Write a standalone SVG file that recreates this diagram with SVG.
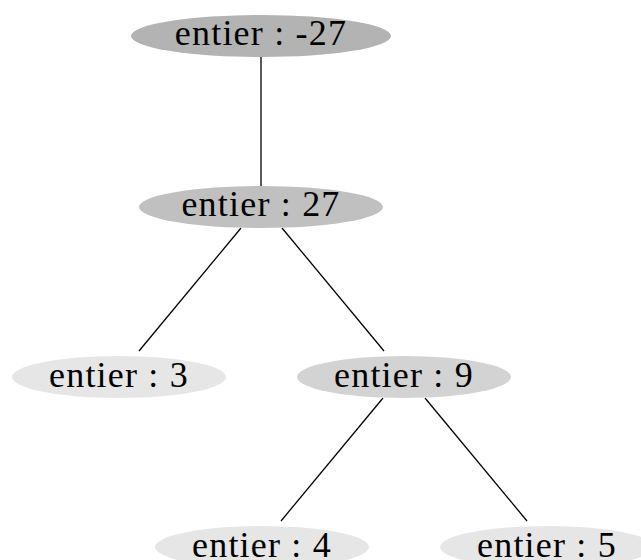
<svg xmlns="http://www.w3.org/2000/svg" width="641" height="560" viewBox="0 0 641 560">
<style>
text{font-family:"Liberation Serif","Times New Roman",serif;font-size:36px;letter-spacing:1.2px;text-anchor:middle;fill:#000}
.e{stroke:#000;stroke-width:1.3;fill:none}
</style>
<rect width="641" height="560" fill="#fff"/>
<g id="edges">
<line class="e" x1="261" y1="57" x2="261" y2="186"/>
<line class="e" x1="241" y1="228" x2="139" y2="351"/>
<line class="e" x1="282" y1="228" x2="384" y2="351"/>
<line class="e" x1="383" y1="398" x2="281" y2="521"/>
<line class="e" x1="425" y1="398" x2="527" y2="521"/>
</g>
<g id="n1"><ellipse cx="261" cy="36" rx="130" ry="21" fill="#b3b3b3"/><text x="261" y="45">entier : -27</text></g>
<g id="n2"><ellipse cx="261" cy="207" rx="122" ry="21" fill="#c0c0c0"/><text x="261" y="216">entier : 27</text></g>
<g id="n3"><ellipse cx="119" cy="377" rx="107" ry="21" fill="#e6e6e6"/><text x="119" y="387">entier : 3</text></g>
<g id="n4"><ellipse cx="404" cy="377" rx="107" ry="21" fill="#d3d3d3"/><text x="404" y="387">entier : 9</text></g>
<g id="n5"><ellipse cx="262" cy="547" rx="107" ry="21" fill="#e6e6e6"/><text x="262" y="557">entier : 4</text></g>
<g id="n6"><ellipse cx="547" cy="547" rx="107" ry="21" fill="#e6e6e6"/><text x="547" y="557">entier : 5</text></g>
</svg>
